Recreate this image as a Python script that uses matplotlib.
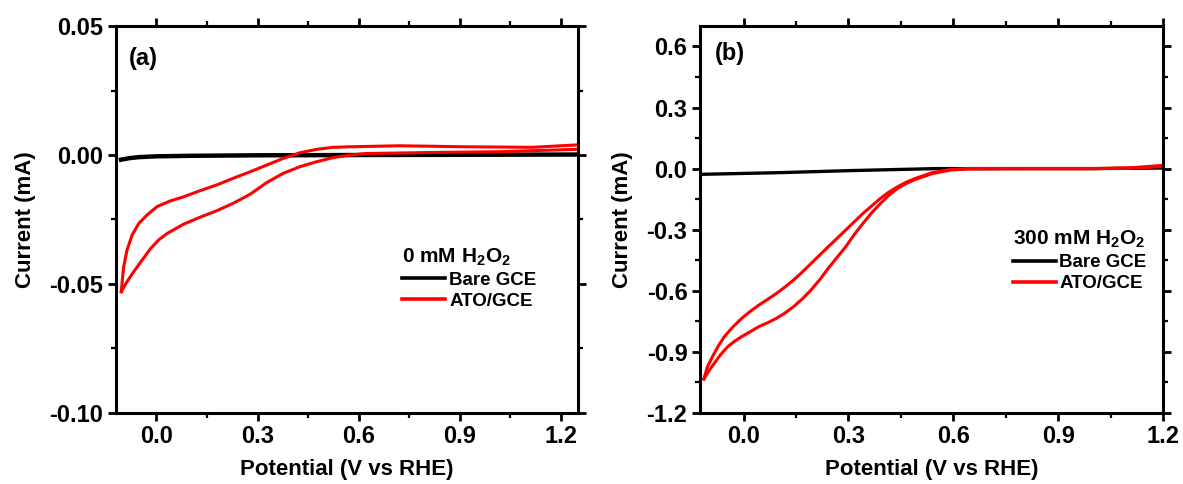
import matplotlib
matplotlib.use("Agg")
import matplotlib.pyplot as plt
from matplotlib.ticker import MultipleLocator, FormatStrFormatter

plt.rcParams['font.family'] = ['Liberation Sans', 'DejaVu Sans']
plt.rcParams['font.weight'] = 'bold'
plt.rcParams['mathtext.fontset'] = 'custom'
plt.rcParams['mathtext.rm'] = 'Liberation Sans:bold'
plt.rcParams['mathtext.bf'] = 'Liberation Sans:bold'
plt.rcParams['mathtext.default'] = 'bf'

# ---------------- Panel (a): 0 mM H2O2 ----------------
a_ato_up_v = [-0.104, -0.101, -0.097, -0.087, -0.072, -0.052, -0.028, 0.002, 0.041, 0.081,
              0.130, 0.179, 0.228, 0.278, 0.327, 0.376, 0.426, 0.475, 0.524, 0.573,
              0.721, 0.92, 1.115, 1.243]
a_ato_up_i = [-0.053, -0.0484, -0.0433, -0.0368, -0.0310, -0.0265, -0.0233, -0.0200, -0.0178, -0.0162,
              -0.0138, -0.0116, -0.0090, -0.0065, -0.0039, -0.0013, 0.0009, 0.0022, 0.0030, 0.0032,
              0.0036, 0.0032, 0.0030, 0.0039]
a_ato_lo_v = [-0.104, -0.087, -0.067, -0.042, -0.018, 0.007, 0.032, 0.081, 0.130, 0.179,
              0.228, 0.278, 0.327, 0.376, 0.426, 0.475, 0.524, 0.573, 0.622, 0.82,
              1.017, 1.243]
a_ato_lo_i = [-0.053, -0.0491, -0.0452, -0.0407, -0.0364, -0.0329, -0.0304, -0.0268, -0.0241, -0.0216,
              -0.0187, -0.0152, -0.0107, -0.0071, -0.0045, -0.0026, -0.0010, 0.0, 0.0006, 0.0010,
              0.0013, 0.0022]
a_bare_v = [-0.105, -0.08, -0.05, 0.0, 0.1, 0.3, 0.6, 0.9, 1.25]
a_bare_i = [-0.0018, -0.0012, -0.0008, -0.0005, -0.0003, -0.0001, 0.0, 0.0001, 0.0002]

# ---------------- Panel (b): 300 mM H2O2 ----------------
b_ato_up_v = [-0.114, -0.104, -0.089, -0.072, -0.055, -0.030, -0.005, 0.020, 0.044, 0.069,
              0.094, 0.118, 0.143, 0.168, 0.193, 0.242, 0.292, 0.341, 0.391, 0.415,
              0.440, 0.465, 0.490, 0.539, 0.589, 0.638, 0.8, 1.0, 1.1, 1.2]
b_ato_up_i = [-1.034, -0.975, -0.923, -0.870, -0.825, -0.776, -0.735, -0.700, -0.670, -0.642,
              -0.613, -0.582, -0.547, -0.508, -0.466, -0.384, -0.302, -0.221, -0.147, -0.116,
              -0.090, -0.067, -0.049, -0.020, -0.005, 0.0, 0.0, 0.0, 0.003, 0.016]
b_ato_lo_v = [-0.114, -0.100, -0.084, -0.065, -0.045, -0.025, -0.005, 0.020, 0.044, 0.069,
              0.094, 0.118, 0.143, 0.168, 0.193, 0.218, 0.242, 0.267, 0.292, 0.316,
              0.341, 0.366, 0.391, 0.415, 0.440, 0.465, 0.490, 0.539, 0.589, 0.638,
              0.8, 1.0, 1.1, 1.2]
b_ato_lo_i = [-1.034, -0.995, -0.956, -0.912, -0.874, -0.847, -0.825, -0.800, -0.776, -0.757,
              -0.735, -0.710, -0.678, -0.640, -0.596, -0.545, -0.490, -0.437, -0.384, -0.325,
              -0.270, -0.218, -0.172, -0.132, -0.098, -0.073, -0.054, -0.025, -0.008, -0.002,
              0.0, 0.0, 0.002, 0.010]
b_bare_v = [-0.12, 0.1, 0.3, 0.55, 0.8, 1.0, 1.2]
b_bare_i = [-0.028, -0.020, -0.010, 0.0, 0.0, 0.0, 0.003]

fig = plt.figure(figsize=(11.83, 4.84), dpi=100)
ax1 = fig.add_axes([0.098, 0.147, 0.3905, 0.799])
ax2 = fig.add_axes([0.5917, 0.147, 0.3914, 0.799])

RED = '#ff0000'

def style(ax, xlim, ylim, ymaj, ymin, yfmt):
    ax.set_xlim(*xlim)
    ax.set_ylim(*ylim)
    ax.xaxis.set_major_locator(MultipleLocator(0.3))
    ax.xaxis.set_minor_locator(MultipleLocator(0.15))
    ax.xaxis.set_major_formatter(FormatStrFormatter('%.1f'))
    ax.yaxis.set_major_locator(MultipleLocator(ymaj))
    ax.yaxis.set_minor_locator(MultipleLocator(ymin))
    ax.yaxis.set_major_formatter(FormatStrFormatter(yfmt))
    for s in ax.spines.values():
        s.set_linewidth(2.2)
    ax.tick_params(which='major', direction='out', length=6, width=2.0, labelsize=17, pad=3)
    ax.tick_params(which='minor', direction='out', length=3.5, width=1.6)
    ax.tick_params(which='both', top=True, right=True)
    for lab in ax.get_xticklabels() + ax.get_yticklabels():
        lab.set_fontweight('bold')
    ax.set_xlabel('Potential (V vs RHE)', fontsize=16, fontweight='bold', labelpad=8)
    ax.set_ylabel('Current (mA)', fontsize=16, fontweight='bold', labelpad=10)

# Panel a
ax1.plot(a_bare_v, a_bare_i, color='black', lw=3.2, label='Bare GCE')
ax1.plot(a_ato_up_v, a_ato_up_i, color=RED, lw=2.2, label='ATO/GCE')
ax1.plot(a_ato_lo_v, a_ato_lo_i, color=RED, lw=2.2)
style(ax1, (-0.12, 1.25), (-0.10, 0.05), 0.05, 0.025, '%.2f')
ax1.text(0.028, 0.945, '(a)', transform=ax1.transAxes, fontsize=17, fontweight='bold',
         va='top', ha='left')
leg1 = ax1.legend(title=r'0 mM H$_2$O$_2$', loc='upper left', bbox_to_anchor=(0.62, 0.43),
                  frameon=False, fontsize=13.5, title_fontsize=15, handlelength=2.3,
                  handletextpad=0.2, labelspacing=0.2, borderpad=0, borderaxespad=0,
                  alignment='left')
for line in leg1.get_lines():
    line.set_linewidth(2.6)
for t in leg1.get_texts():
    t.set_fontweight('bold')
leg1.get_title().set_fontweight('bold')

# Panel b
ax2.plot(b_bare_v, b_bare_i, color='black', lw=2.4, label='Bare GCE')
ax2.plot(b_ato_up_v, b_ato_up_i, color=RED, lw=2.2, label='ATO/GCE')
ax2.plot(b_ato_lo_v, b_ato_lo_i, color=RED, lw=2.2)
style(ax2, (-0.125, 1.2), (-1.2, 0.7), 0.3, 0.15, '%.1f')
ax2.text(0.033, 0.96, '(b)', transform=ax2.transAxes, fontsize=17, fontweight='bold',
         va='top', ha='left')
leg2 = ax2.legend(title=r'300 mM H$_2$O$_2$', loc='upper left', bbox_to_anchor=(0.675, 0.475),
                  frameon=False, fontsize=13.5, title_fontsize=15, handlelength=2.3,
                  handletextpad=0.2, labelspacing=0.2, borderpad=0, borderaxespad=0,
                  alignment='left')
for line in leg2.get_lines():
    line.set_linewidth(2.6)
for t in leg2.get_texts():
    t.set_fontweight('bold')
leg2.get_title().set_fontweight('bold')

fig.savefig('out.png', dpi=100)
